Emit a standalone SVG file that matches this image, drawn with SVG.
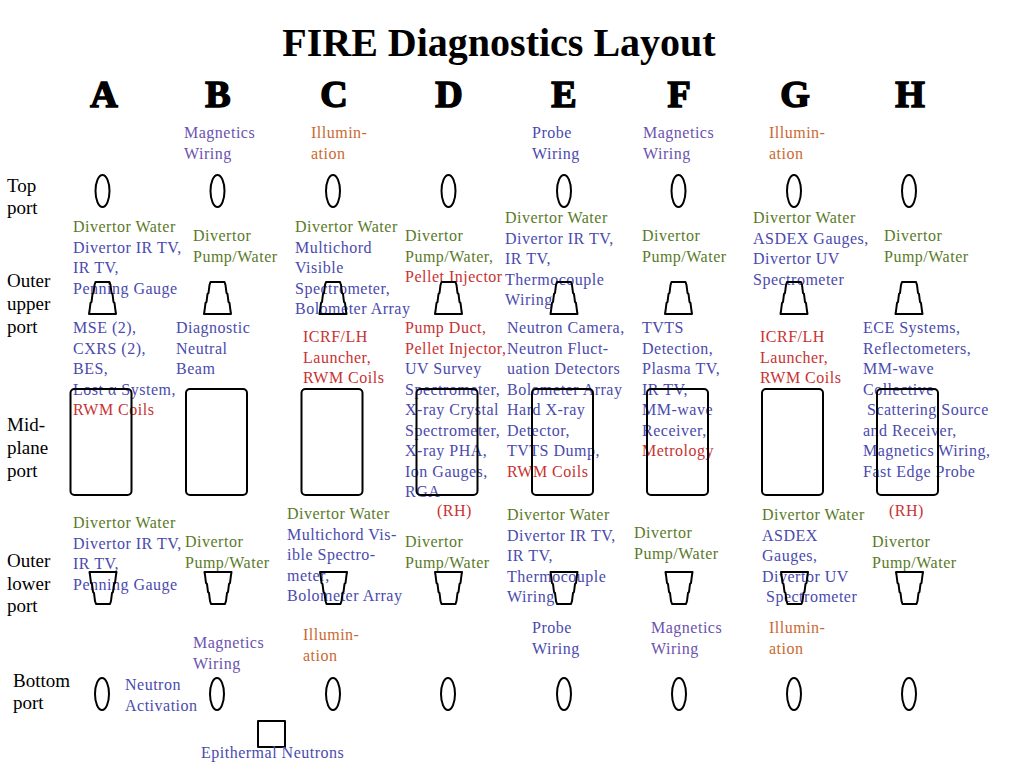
<svg xmlns="http://www.w3.org/2000/svg" xmlns:xlink="http://www.w3.org/1999/xlink" width="1024" height="768" viewBox="0 0 1024 768">
<style>
.bg{fill:#fff}
.title{font-family:"Liberation Serif","Times New Roman",serif;font-weight:bold;font-size:40px;fill:#000}
.col{font-family:"Liberation Serif","Times New Roman",serif;font-weight:bold;font-size:38px;fill:#000;stroke:#000;stroke-width:1.6;text-anchor:middle}
.row{font-family:"Liberation Serif","Times New Roman",serif;font-size:19px;fill:#000}
.t{font-family:"Liberation Serif","Times New Roman",serif;font-size:16px;letter-spacing:0.5px}
.g{fill:#5a7a28}
.b{fill:#4a4aae}
.p{fill:#6a52b0}
.r{fill:#c83232}
.o{fill:#c86a32}
.shape{fill:none;stroke:#000;stroke-width:2;stroke-linejoin:round}
</style>
<defs>
<ellipse id="round" cx="0" cy="0" rx="7" ry="16"/>
<path id="trapUp" d="M-7,-16 H7 L8,-13 L9,-5 L10,-4 L11,4 L12,5 L13,13 L13.5,16 H-13.5 L-13,13 L-12,5 L-11,4 L-10,-4 L-9,-5 L-8,-13 Z"/>
<path id="trapDown" d="M-7,16 H7 L8,13 L9,5 L10,4 L11,-4 L12,-5 L13,-13 L13.5,-16 H-13.5 L-13,-13 L-12,-5 L-11,-4 L-10,4 L-9,5 L-8,13 Z"/>
<rect id="mid" x="-30.5" y="-53" width="61" height="106" rx="4"/>
</defs>
<rect class="bg" x="0" y="0" width="1024" height="768"/>

<g id="header">
<text class="title" x="499" y="56" text-anchor="middle">FIRE Diagnostics Layout</text>
<text class="col" x="104" y="107">A</text>
<text class="col" x="218" y="107">B</text>
<text class="col" x="334" y="107">C</text>
<text class="col" x="449" y="107">D</text>
<text class="col" x="564" y="107">E</text>
<text class="col" x="679" y="107">F</text>
<text class="col" x="795" y="107">G</text>
<text class="col" x="910" y="107">H</text>
</g>

<g id="row-labels">
<text class="row" x="7" y="192">Top<tspan x="7" y="214">port</tspan></text>
<text class="row" x="7" y="287">Outer<tspan x="7" y="310">upper</tspan><tspan x="7" y="333">port</tspan></text>
<text class="row" x="7" y="431">Mid-<tspan x="7" y="454">plane</tspan><tspan x="7" y="477">port</tspan></text>
<text class="row" x="7" y="567">Outer<tspan x="7" y="590">lower</tspan><tspan x="7" y="612">port</tspan></text>
<text class="row" x="13" y="687">Bottom<tspan x="13" y="709">port</tspan></text>
</g>

<!-- Top ports -->
<g id="A-top"><use xlink:href="#round" class="shape" x="102.5" y="191"/></g>
<g id="B-top"><text class="t"><tspan class="p" x="184" y="138">Magnetics</tspan><tspan class="p" x="184" y="158.5">Wiring</tspan></text><use xlink:href="#round" class="shape" x="217.5" y="191"/></g>
<g id="C-top"><text class="t"><tspan class="o" x="311" y="138">Illumin-</tspan><tspan class="o" x="311" y="158.5">ation</tspan></text><use xlink:href="#round" class="shape" x="333" y="191"/></g>
<g id="D-top"><use xlink:href="#round" class="shape" x="448.5" y="191"/></g>
<g id="E-top"><text class="t"><tspan class="b" x="532" y="138">Probe</tspan><tspan class="b" x="532" y="158.5">Wiring</tspan></text><use xlink:href="#round" class="shape" x="564" y="191"/></g>
<g id="F-top"><text class="t"><tspan class="p" x="643" y="138">Magnetics</tspan><tspan class="p" x="643" y="158.5">Wiring</tspan></text><use xlink:href="#round" class="shape" x="678.5" y="191"/></g>
<g id="G-top"><text class="t"><tspan class="o" x="769" y="138">Illumin-</tspan><tspan class="o" x="769" y="158.5">ation</tspan></text><use xlink:href="#round" class="shape" x="794" y="191"/></g>
<g id="H-top"><use xlink:href="#round" class="shape" x="909" y="191"/></g>

<!-- Outer upper ports -->
<g id="A-upper"><text class="t"><tspan class="g" x="73" y="232">Divertor Water</tspan><tspan class="b" x="73" y="252.5">Divertor IR TV,</tspan><tspan class="b" x="73" y="273">IR TV,</tspan><tspan class="b" x="73" y="293.5">Penning Gauge</tspan></text><use xlink:href="#trapUp" class="shape" x="102.5" y="298"/></g>
<g id="B-upper"><text class="t"><tspan class="g" x="193" y="241">Divertor</tspan><tspan class="g" x="193" y="261.5">Pump/Water</tspan></text><use xlink:href="#trapUp" class="shape" x="217.5" y="298"/></g>
<g id="C-upper"><text class="t"><tspan class="g" x="295" y="232">Divertor Water</tspan><tspan class="b" x="295" y="252.5">Multichord</tspan><tspan class="b" x="295" y="273">Visible</tspan><tspan class="b" x="295" y="293.5">Spectrometer,</tspan><tspan class="b" x="295" y="314">Bolometer Array</tspan></text><use xlink:href="#trapUp" class="shape" x="333" y="298"/></g>
<g id="D-upper"><text class="t"><tspan class="g" x="405" y="241">Divertor</tspan><tspan class="g" x="405" y="261.5">Pump/Water,</tspan><tspan class="r" x="405" y="282">Pellet Injector</tspan></text><use xlink:href="#trapUp" class="shape" x="448.5" y="298"/></g>
<g id="E-upper"><text class="t"><tspan class="g" x="505" y="223">Divertor Water</tspan><tspan class="b" x="505" y="243.5">Divertor IR TV,</tspan><tspan class="b" x="505" y="264">IR TV,</tspan><tspan class="b" x="505" y="284.5">Thermocouple</tspan><tspan class="b" x="505" y="305">Wiring</tspan></text><use xlink:href="#trapUp" class="shape" x="564" y="298"/></g>
<g id="F-upper"><text class="t"><tspan class="g" x="642" y="241">Divertor</tspan><tspan class="g" x="642" y="261.5">Pump/Water</tspan></text><use xlink:href="#trapUp" class="shape" x="678.5" y="298"/></g>
<g id="G-upper"><text class="t"><tspan class="g" x="753" y="223">Divertor Water</tspan><tspan class="b" x="753" y="243.5">ASDEX Gauges,</tspan><tspan class="b" x="753" y="264">Divertor UV</tspan><tspan class="b" x="753" y="284.5">Spectrometer</tspan></text><use xlink:href="#trapUp" class="shape" x="794" y="298"/></g>
<g id="H-upper"><text class="t"><tspan class="g" x="884" y="241">Divertor</tspan><tspan class="g" x="884" y="261.5">Pump/Water</tspan></text><use xlink:href="#trapUp" class="shape" x="909" y="298"/></g>

<!-- Mid-plane ports -->
<g id="A-mid"><text class="t"><tspan class="b" x="73" y="333">MSE (2),</tspan><tspan class="b" x="73" y="353.5">CXRS (2),</tspan><tspan class="b" x="73" y="374">BES,</tspan><tspan class="b" x="73" y="394.5">Lost α System,</tspan><tspan class="r" x="73" y="415">RWM Coils</tspan></text><use xlink:href="#mid" class="shape" x="101" y="442"/></g>
<g id="B-mid"><text class="t"><tspan class="b" x="176" y="333">Diagnostic</tspan><tspan class="b" x="176" y="353.5">Neutral</tspan><tspan class="b" x="176" y="374">Beam</tspan></text><use xlink:href="#mid" class="shape" x="216.5" y="442"/></g>
<g id="C-mid"><text class="t"><tspan class="r" x="303" y="342">ICRF/LH</tspan><tspan class="r" x="303" y="362.5">Launcher,</tspan><tspan class="r" x="303" y="383">RWM Coils</tspan></text><use xlink:href="#mid" class="shape" x="332" y="442"/></g>
<g id="D-mid"><text class="t"><tspan class="r" x="405" y="333">Pump Duct,</tspan><tspan class="r" x="405" y="353.5">Pellet Injector,</tspan><tspan class="b" x="405" y="374">UV Survey</tspan><tspan class="b" x="405" y="394.5">Spectrometer,</tspan><tspan class="b" x="405" y="415">X-ray Crystal</tspan><tspan class="b" x="405" y="435.5">Spectrometer,</tspan><tspan class="b" x="405" y="456">X-ray PHA,</tspan><tspan class="b" x="405" y="476.5">Ion Gauges,</tspan><tspan class="b" x="405" y="497">RGA</tspan><tspan class="r" x="437" y="516">(RH)</tspan></text><use xlink:href="#mid" class="shape" x="447" y="442"/></g>
<g id="E-mid"><text class="t"><tspan class="b" x="507" y="333">Neutron Camera,</tspan><tspan class="b" x="507" y="353.5">Neutron Fluct-</tspan><tspan class="b" x="507" y="374">uation Detectors</tspan><tspan class="b" x="507" y="394.5">Bolometer Array</tspan><tspan class="b" x="507" y="415">Hard X-ray</tspan><tspan class="b" x="507" y="435.5">Detector,</tspan><tspan class="b" x="507" y="456">TVTS Dump,</tspan><tspan class="r" x="507" y="476.5">RWM Coils</tspan></text><use xlink:href="#mid" class="shape" x="562.5" y="442"/></g>
<g id="F-mid"><text class="t"><tspan class="b" x="642" y="333">TVTS</tspan><tspan class="b" x="642" y="353.5">Detection,</tspan><tspan class="b" x="642" y="374">Plasma TV,</tspan><tspan class="b" x="642" y="394.5">IR TV,</tspan><tspan class="b" x="642" y="415">MM-wave</tspan><tspan class="b" x="642" y="435.5">Receiver,</tspan><tspan class="r" x="642" y="456">Metrology</tspan></text><use xlink:href="#mid" class="shape" x="677.5" y="442"/></g>
<g id="G-mid"><text class="t"><tspan class="r" x="760" y="342">ICRF/LH</tspan><tspan class="r" x="760" y="362.5">Launcher,</tspan><tspan class="r" x="760" y="383">RWM Coils</tspan></text><use xlink:href="#mid" class="shape" x="792.5" y="442"/></g>
<g id="H-mid"><text class="t"><tspan class="b" x="863" y="333">ECE Systems,</tspan><tspan class="b" x="863" y="353.5">Reflectometers,</tspan><tspan class="b" x="863" y="374">MM-wave</tspan><tspan class="b" x="863" y="394.5">Collective</tspan><tspan class="b" x="867" y="415">Scattering Source</tspan><tspan class="b" x="863" y="435.5">and Receiver,</tspan><tspan class="b" x="863" y="456">Magnetics Wiring,</tspan><tspan class="b" x="863" y="476.5">Fast Edge Probe</tspan><tspan class="r" x="889" y="516">(RH)</tspan></text><use xlink:href="#mid" class="shape" x="907.5" y="442"/></g>

<!-- Outer lower ports -->
<g id="A-lower"><text class="t"><tspan class="g" x="73" y="528">Divertor Water</tspan><tspan class="b" x="73" y="548.5">Divertor IR TV,</tspan><tspan class="b" x="73" y="569">IR TV,</tspan><tspan class="b" x="73" y="589.5">Penning Gauge</tspan></text><use xlink:href="#trapDown" class="shape" x="103" y="588"/></g>
<g id="B-lower"><text class="t"><tspan class="g" x="185" y="547">Divertor</tspan><tspan class="g" x="185" y="567.5">Pump/Water</tspan></text><use xlink:href="#trapDown" class="shape" x="218" y="588"/></g>
<g id="C-lower"><text class="t"><tspan class="g" x="287" y="519">Divertor Water</tspan><tspan class="b" x="287" y="539.5">Multichord Vis-</tspan><tspan class="b" x="287" y="560">ible Spectro-</tspan><tspan class="b" x="287" y="580.5">meter,</tspan><tspan class="b" x="287" y="601">Bolometer Array</tspan></text><use xlink:href="#trapDown" class="shape" x="333.5" y="588"/></g>
<g id="D-lower"><text class="t"><tspan class="g" x="405" y="547">Divertor</tspan><tspan class="g" x="405" y="567.5">Pump/Water</tspan></text><use xlink:href="#trapDown" class="shape" x="448.5" y="588"/></g>
<g id="E-lower"><text class="t"><tspan class="g" x="507" y="520">Divertor Water</tspan><tspan class="b" x="507" y="540.5">Divertor IR TV,</tspan><tspan class="b" x="507" y="561">IR TV,</tspan><tspan class="b" x="507" y="581.5">Thermocouple</tspan><tspan class="b" x="507" y="602">Wiring</tspan></text><use xlink:href="#trapDown" class="shape" x="564" y="588"/></g>
<g id="F-lower"><text class="t"><tspan class="g" x="634" y="538">Divertor</tspan><tspan class="g" x="634" y="558.5">Pump/Water</tspan></text><use xlink:href="#trapDown" class="shape" x="679" y="588"/></g>
<g id="G-lower"><text class="t"><tspan class="g" x="762" y="520">Divertor Water</tspan><tspan class="b" x="762" y="540.5">ASDEX</tspan><tspan class="b" x="762" y="561">Gauges,</tspan><tspan class="b" x="762" y="581.5">Divertor UV</tspan><tspan class="b" x="766" y="602">Spectrometer</tspan></text><use xlink:href="#trapDown" class="shape" x="794.5" y="588"/></g>
<g id="H-lower"><text class="t"><tspan class="g" x="872" y="547">Divertor</tspan><tspan class="g" x="872" y="567.5">Pump/Water</tspan></text><use xlink:href="#trapDown" class="shape" x="909.5" y="588"/></g>

<!-- Bottom ports -->
<g id="A-bottom"><text class="t"><tspan class="b" x="125" y="690">Neutron</tspan><tspan class="b" x="125" y="710.5">Activation</tspan></text><use xlink:href="#round" class="shape" x="102" y="694"/></g>
<g id="B-bottom"><text class="t"><tspan class="p" x="193" y="648">Magnetics</tspan><tspan class="p" x="193" y="668.5">Wiring</tspan></text><use xlink:href="#round" class="shape" x="217" y="694"/></g>
<g id="C-bottom"><text class="t"><tspan class="o" x="303" y="640">Illumin-</tspan><tspan class="o" x="303" y="660.5">ation</tspan></text><use xlink:href="#round" class="shape" x="333" y="694"/></g>
<g id="D-bottom"><use xlink:href="#round" class="shape" x="448" y="694"/></g>
<g id="E-bottom"><text class="t"><tspan class="b" x="532" y="633">Probe</tspan><tspan class="b" x="532" y="653.5">Wiring</tspan></text><use xlink:href="#round" class="shape" x="564" y="694"/></g>
<g id="F-bottom"><text class="t"><tspan class="p" x="651" y="633">Magnetics</tspan><tspan class="p" x="651" y="653.5">Wiring</tspan></text><use xlink:href="#round" class="shape" x="679" y="694"/></g>
<g id="G-bottom"><text class="t"><tspan class="o" x="769" y="633">Illumin-</tspan><tspan class="o" x="769" y="653.5">ation</tspan></text><use xlink:href="#round" class="shape" x="794" y="694"/></g>
<g id="H-bottom"><use xlink:href="#round" class="shape" x="909" y="694"/></g>
<g id="epithermal"><rect class="shape" x="258" y="721" width="27" height="26"/><text class="t"><tspan class="b" x="201" y="758">Epithermal Neutrons</tspan></text></g>

<g id="connectors"></g>
</svg>
